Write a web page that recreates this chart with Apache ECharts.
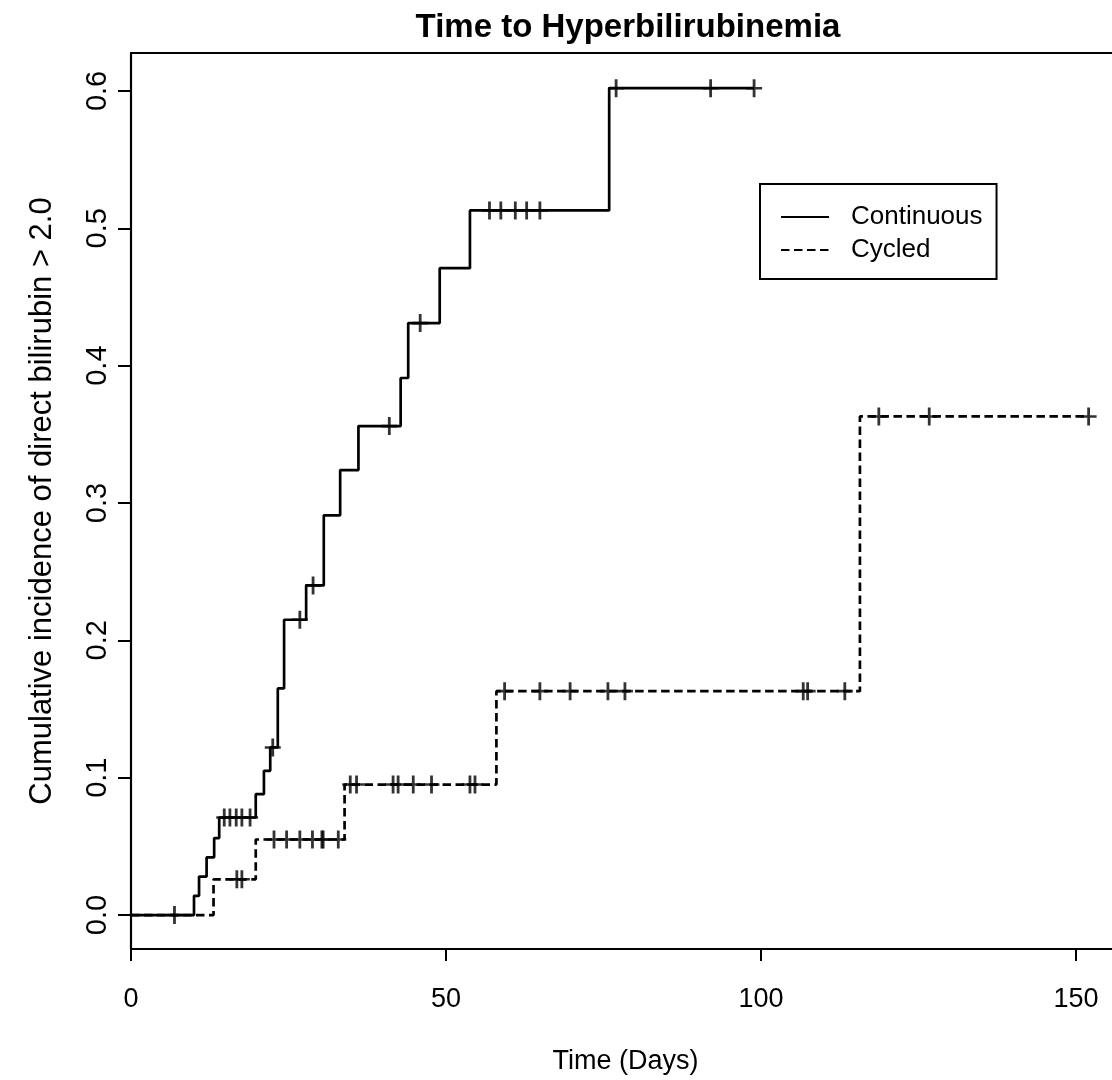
<!DOCTYPE html>
<html>
<head>
<meta charset="utf-8">
<script src="https://cdn.jsdelivr.net/npm/echarts@6/dist/echarts.min.js"></script>
<style>
  html, body { margin: 0; padding: 0; background: #fff; }
  #chart { width: 1112px; height: 1080px; }
</style>
</head>
<body>
<div id="chart"></div>
<script>
// Cumulative incidence step curves: time (days) at which each jump happens, and the level after it
const continuousTimes  = [0, 10.0, 10.8, 12.0, 13.2, 14.0, 19.8, 21.1, 22.1, 23.3, 24.3, 27.8, 30.6, 33.2, 36.1, 42.8, 44.0, 49.0, 53.8, 75.9, 98.9];
const continuousValues = [0, 0.014, 0.028, 0.042, 0.056, 0.071, 0.088, 0.105, 0.122, 0.165, 0.215, 0.240, 0.291, 0.324, 0.356, 0.391, 0.431, 0.471, 0.513, 0.602, 0.602];
const continuousCensored = [6.9, 14.8, 15.7, 16.7, 17.6, 18.9, 22.5, 26.8, 28.9, 41.0, 45.9, 56.9, 58.7, 61.0, 62.8, 64.9, 77.0, 92.0, 98.9];

const cycledTimes  = [0, 13.1, 19.8, 33.9, 58.0, 115.7, 152.0];
const cycledValues = [0, 0.026, 0.055, 0.095, 0.163, 0.363, 0.363];
const cycledCensored = [16.8, 17.6, 22.7, 24.7, 26.8, 28.8, 30.3, 30.5, 32.9, 34.8, 35.8, 41.6, 42.4, 44.8, 47.7, 53.8, 54.6, 59.3, 64.9, 69.7, 75.7, 78.4, 106.7, 107.4, 113.3, 118.7, 126.7, 152.0];

const xTicks = [0, 50, 100, 150];
const yTicks = [0, 0.1, 0.2, 0.3, 0.4, 0.5, 0.6];

const seriesNames = ['Continuous', 'Cycled'];

// level of a step curve at time t
function levelAt(times, values, t) {
  let v = values[0];
  for (let i = 0; i < times.length; i++) {
    if (times[i] <= t) v = values[i];
  }
  return v;
}
const pairs = (times, values) => times.map((t, i) => [t, values[i]]);
const marks = (censored, times, values) => censored.map(t => [t, levelAt(times, values, t)]);

// "+" censoring mark
const plusSymbol = 'path://M6.6,0h2.8v18h-2.8zM0,7.7h16v2.6h-16z';
const FONT = '"Liberation Sans", Arial, Helvetica, sans-serif';
const X_MIN = 0, X_MAX = 155.71;
const Y_MIN = -0.02473, Y_MAX = 0.62764;
const frameLine = { show: true, onZero: false, lineStyle: { color: '#000', width: 2.2 } };

const chart = echarts.init(document.getElementById('chart'), null, { renderer: 'canvas' });
chart.setOption({
  animation: false,
  backgroundColor: '#fff',
  textStyle: { fontFamily: FONT, color: '#000' },
  title: {
    text: 'Time to Hyperbilirubinemia',
    left: 623,
    top: 6,
    textAlign: 'center',
    textStyle: { fontFamily: FONT, fontSize: 33, fontWeight: 'bold', color: '#000' }
  },
  grid: { left: 131, top: 53, right: 0, height: 897, show: false },
  legend: {
    data: seriesNames,
    orient: 'vertical',
    left: 760, top: 184,
    borderColor: '#000', borderWidth: 2, borderRadius: 0,
    backgroundColor: '#fff',
    padding: [20, 14, 16, 20],
    itemGap: 7, itemWidth: 48, itemHeight: 25,
    itemStyle: { color: 'rgba(0,0,0,0)', borderColor: 'rgba(0,0,0,0)', borderWidth: 0 },
    textStyle: { fontFamily: FONT, fontSize: 26, color: '#000', padding: [0, 0, 0, 17] }
  },
  xAxis: [
    {
      type: 'value',
      min: X_MIN, max: X_MAX,
      name: 'Time (Days)',
      nameLocation: 'middle',
      nameGap: 99,
      nameTextStyle: { fontFamily: FONT, fontSize: 27, color: '#000', padding: [0, 0, 0, 8] },
      axisLine: frameLine,
      axisTick: { show: true, length: 12, customValues: xTicks, lineStyle: { color: '#000', width: 2 } },
      axisLabel: { customValues: xTicks, margin: 37, fontFamily: FONT, fontSize: 27, color: '#000' },
      splitLine: { show: false }
    },
    {
      // top edge of the plot frame
      type: 'value', position: 'top',
      min: X_MIN, max: X_MAX,
      axisLine: frameLine,
      axisTick: { show: false },
      axisLabel: { show: false },
      splitLine: { show: false }
    }
  ],
  yAxis: {
    type: 'value',
    min: Y_MIN, max: Y_MAX,
    name: 'Cumulative incidence of direct bilirubin > 2.0',
    nameLocation: 'middle',
    nameGap: 73,
    nameTextStyle: { fontFamily: FONT, fontSize: 31, color: '#000' },
    axisLine: frameLine,
    axisTick: { show: true, length: 13, customValues: yTicks, lineStyle: { color: '#000', width: 2 } },
    axisLabel: {
      customValues: yTicks, rotate: 90, margin: 19,
      formatter: v => v.toFixed(1),
      fontFamily: FONT, fontSize: 29, color: '#000'
    },
    splitLine: { show: false }
  },
  series: [
    {
      name: 'Cycled', type: 'line', step: 'end', symbol: 'none', z: 3,
      data: pairs(cycledTimes, cycledValues),
      lineStyle: { color: '#000', width: 2.7, type: [8.5, 4.5] },
      itemStyle: { color: '#000' }
    },
    {
      name: 'Continuous', type: 'line', step: 'end', symbol: 'none', z: 4,
      data: pairs(continuousTimes, continuousValues),
      lineStyle: { color: '#000', width: 2.7, type: 'solid' },
      itemStyle: { color: '#000' }
    },
    {
      name: 'Cycled censored', type: 'scatter', z: 5,
      symbol: plusSymbol, symbolSize: [16, 18],
      data: marks(cycledCensored, cycledTimes, cycledValues),
      itemStyle: { color: '#000' }
    },
    {
      name: 'Continuous censored', type: 'scatter', z: 5,
      symbol: plusSymbol, symbolSize: [16, 18],
      data: marks(continuousCensored, continuousTimes, continuousValues),
      itemStyle: { color: '#000' }
    }
  ]
});
</script>
</body>
</html>
